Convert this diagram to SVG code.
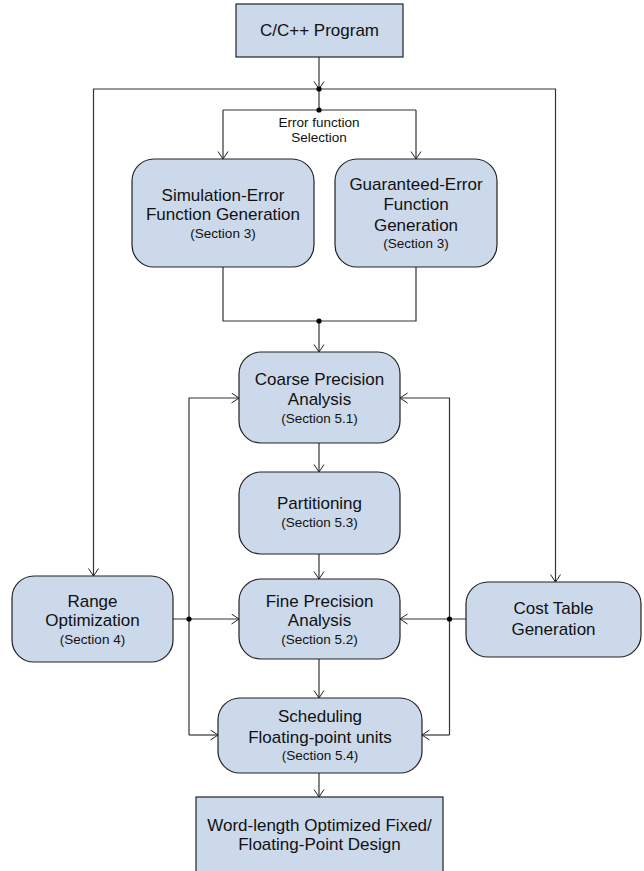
<svg xmlns="http://www.w3.org/2000/svg" width="644" height="871" viewBox="0 0 644 871">
<defs>
<marker id="arr" markerUnits="userSpaceOnUse" markerWidth="10" markerHeight="12" refX="8.5" refY="5.5" orient="auto">
<path d="M1,0.5 L8.5,5.5 L1,10.5" fill="none" stroke="#222" stroke-width="1"/>
</marker>
</defs>
<style>
.box{fill:#ccd9ea;stroke:#222;stroke-width:1.2}
.t{font-family:"Liberation Sans",Arial,sans-serif;font-size:17px;fill:#111;text-anchor:middle}
.s{font-family:"Liberation Sans",Arial,sans-serif;font-size:13.5px;fill:#111;text-anchor:middle}
.c{fill:none;stroke:#333;stroke-width:1.2}
.a{fill:none;stroke:#333;stroke-width:1.2;marker-end:url(#arr)}
.d{fill:#000}
</style>
<g id="connectors">
<line class="a" x1="319" y1="57" x2="319" y2="89"/>
<polyline class="c" points="93,89 556,89"/>
<line class="c" x1="319" y1="89" x2="319" y2="110"/>
<polyline class="c" points="223,110 416,110"/>
<line class="a" x1="223" y1="110" x2="223" y2="159"/>
<line class="a" x1="416" y1="110" x2="416" y2="159"/>
<line class="a" x1="93.5" y1="89" x2="93.5" y2="576"/>
<line class="a" x1="555.5" y1="89" x2="555.5" y2="582"/>
<polyline class="c" points="223,267 223,321 416,321 416,267"/>
<line class="a" x1="319" y1="321" x2="319" y2="352"/>
<line class="a" x1="319" y1="443" x2="319" y2="472"/>
<line class="a" x1="319" y1="554" x2="319" y2="579"/>
<line class="a" x1="319" y1="659" x2="319" y2="698"/>
<line class="a" x1="319" y1="773" x2="319" y2="797"/>
<line class="a" x1="173" y1="619" x2="239" y2="619"/>
<line class="a" x1="466" y1="619" x2="400" y2="619"/>
<polyline class="a" points="189,735 189,398 239,398"/>
<line class="a" x1="189" y1="735" x2="218" y2="735"/>
<polyline class="a" points="449.5,735 449.5,398 400,398"/>
<line class="a" x1="449.5" y1="735" x2="422" y2="735"/>
<circle class="d" cx="319" cy="89" r="2.6"/>
<circle class="d" cx="319" cy="110" r="2.6"/>
<circle class="d" cx="319" cy="321" r="2.6"/>
<circle class="d" cx="189" cy="619" r="2.6"/>
<circle class="d" cx="449.5" cy="619" r="2.6"/>
<text class="s" x="319" y="127">Error function</text>
<text class="s" x="319" y="142">Selection</text>
</g>
<g id="program">
<rect class="box" x="236" y="4" width="167" height="53"/>
<text class="t" x="319.5" y="36">C/C++ Program</text>
</g>
<g id="simulation">
<rect class="box" x="132" y="159" width="182" height="108" rx="22"/>
<text class="t" x="223" y="201">Simulation-Error</text>
<text class="t" x="223" y="220">Function Generation</text>
<text class="s" x="223" y="238">(Section 3)</text>
</g>
<g id="guaranteed">
<rect class="box" x="335" y="159" width="162" height="108" rx="22"/>
<text class="t" x="416" y="190">Guaranteed-Error</text>
<text class="t" x="416" y="210">Function</text>
<text class="t" x="416" y="231">Generation</text>
<text class="s" x="416" y="248">(Section 3)</text>
</g>
<g id="coarse">
<rect class="box" x="239" y="352" width="161" height="91" rx="22"/>
<text class="t" x="319.5" y="385">Coarse Precision</text>
<text class="t" x="319.5" y="405">Analysis</text>
<text class="s" x="319.5" y="423">(Section 5.1)</text>
</g>
<g id="partitioning">
<rect class="box" x="239" y="472" width="161" height="82" rx="22"/>
<text class="t" x="319.5" y="509">Partitioning</text>
<text class="s" x="319.5" y="527">(Section 5.3)</text>
</g>
<g id="range">
<rect class="box" x="12" y="576" width="161" height="86" rx="22"/>
<text class="t" x="92.5" y="607">Range</text>
<text class="t" x="92.5" y="626">Optimization</text>
<text class="s" x="92.5" y="644">(Section 4)</text>
</g>
<g id="fine">
<rect class="box" x="239" y="579" width="161" height="80" rx="22"/>
<text class="t" x="319.5" y="607">Fine Precision</text>
<text class="t" x="319.5" y="626">Analysis</text>
<text class="s" x="319.5" y="644">(Section 5.2)</text>
</g>
<g id="cost">
<rect class="box" x="466" y="582" width="175" height="75" rx="22"/>
<text class="t" x="553.5" y="614">Cost Table</text>
<text class="t" x="553.5" y="635">Generation</text>
</g>
<g id="scheduling">
<rect class="box" x="218" y="698" width="204" height="75" rx="22"/>
<text class="t" x="320" y="722">Scheduling</text>
<text class="t" x="320" y="743">Floating-point units</text>
<text class="s" x="320" y="760">(Section 5.4)</text>
</g>
<g id="design">
<rect class="box" x="196" y="797" width="247" height="90"/>
<text class="t" x="319.5" y="831">Word-length Optimized Fixed/</text>
<text class="t" x="319.5" y="850">Floating-Point Design</text>
</g>
</svg>
